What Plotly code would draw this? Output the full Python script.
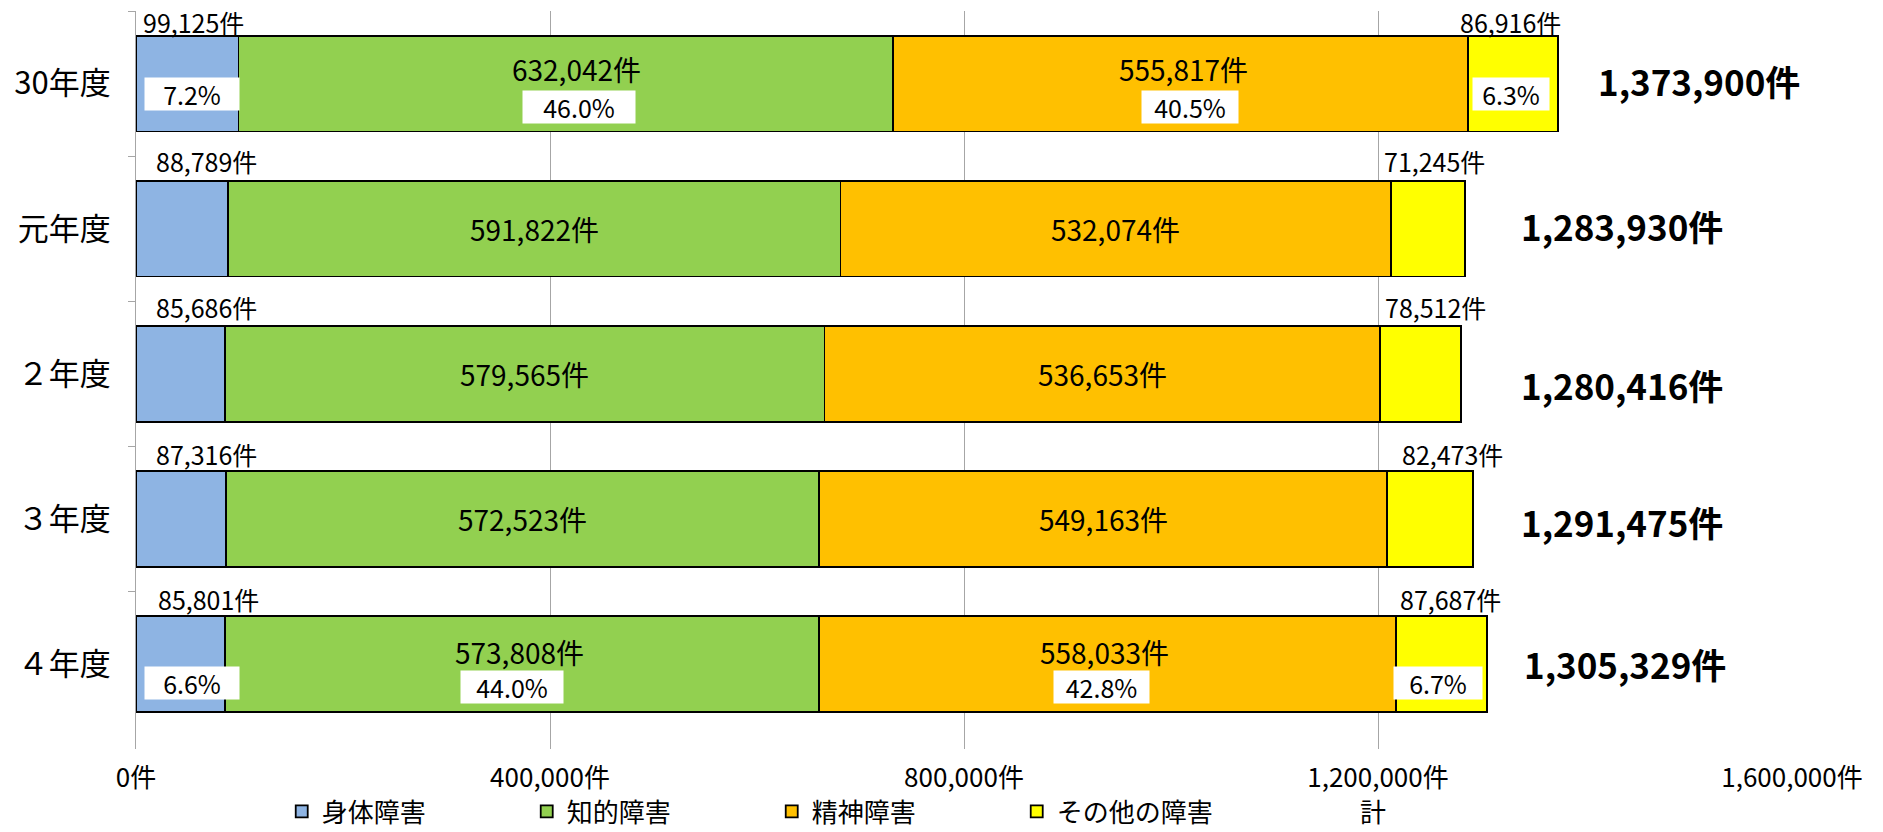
import plotly.graph_objects as go

categories = ["30年度", "元年度", "２年度", "３年度", "４年度"]
series_names = ["身体障害", "知的障害", "精神障害", "その他の障害"]
shintai = [99125, 88789, 85686, 87316, 85801]
chiteki = [632042, 591822, 579565, 572523, 573808]
seishin = [555817, 532074, 536653, 549163, 558033]
sonota = [86916, 71245, 78512, 82473, 87687]
totals = [1373900, 1283930, 1280416, 1291475, 1305329]
tick_vals = [0, 400000, 800000, 1200000, 1600000]
tick_text = ["0件", "400,000件", "800,000件", "1,200,000件", "1,600,000件"]
pct_rows = [0, 4]  # rows that show percentage boxes

colors = ["#8EB4E3", "#92D050", "#FFC000", "#FFFF00"]
FONT = "Noto Sans CJK JP"
series = [shintai, chiteki, seishin, sonota]

fig = go.Figure()
for name, vals, col in zip(series_names, series, colors):
    fig.add_trace(go.Bar(
        y=categories, x=vals, name=name, orientation="h",
        marker=dict(color=col, line=dict(color="#000000", width=1.8)),
        hoverinfo="x+name",
    ))
# legend-only entry for the total
fig.add_trace(go.Bar(
    y=categories, x=[0] * len(categories), name="計", orientation="h",
    marker=dict(color="rgba(0,0,0,0)", line=dict(width=0)),
    legend="legend2", hoverinfo="skip",
))

annotations = []
# px offsets (layout only)
shintai_dx = [5, 18, 18, 18, 20]
above_dy = [62, 68, 67, 65, 65]
sonota_dx = [-10, -9, 3, 13, 2]
value_dx = {0: [11, 3], 4: [-2, -3]}
value_dy = {0: 15, 4: 12}
pct_dx = {0: [5, 13, 10, -2], 4: [12, -10, -6, -4]}
pct_dy = {0: [-10, -23, -23, -10], 4: [-19, -23, -23, -19]}
pct_w = {0: [92, 110, 94, 74], 4: [92, 100, 93, 86]}
total_dx = [38, 54, 58, 46, 35]
total_dy = [3, 3, -11, -3, 1]

for i, cat in enumerate(categories):
    cum = 0
    starts = []
    for s in series:
        starts.append(cum)
        cum += s[i]
    annotations.append(dict(x=0, y=cat, xref="x", yref="y", text=f"{shintai[i]:,}件",
                            showarrow=False, xanchor="left", yanchor="middle",
                            xshift=shintai_dx[i], yshift=above_dy[i],
                            font=dict(size=25, color="#000000", family=FONT)))
    annotations.append(dict(x=starts[3], y=cat, xref="x", yref="y", text=f"{sonota[i]:,}件",
                            showarrow=False, xanchor="left", yanchor="middle",
                            xshift=sonota_dx[i], yshift=above_dy[i],
                            font=dict(size=25, color="#000000", family=FONT)))
    for k, s in ((1, chiteki), (2, seishin)):
        cx = starts[k] + s[i] / 2
        dx = value_dx[i][k - 1] if i in value_dx else 0
        dy = value_dy.get(i, 0)
        annotations.append(dict(x=cx, y=cat, xref="x", yref="y", text=f"{s[i]:,}件",
                                showarrow=False, xanchor="center", yanchor="middle",
                                xshift=dx, yshift=dy,
                                font=dict(size=28, color="#000000", family=FONT)))
    if i in pct_rows:
        for k, s in enumerate(series):
            cx = starts[k] + s[i] / 2
            pct = s[i] / totals[i] * 100
            annotations.append(dict(x=cx, y=cat, xref="x", yref="y", text=f"{pct:.1f}%",
                                    showarrow=False, xanchor="center", yanchor="middle",
                                    xshift=pct_dx[i][k], yshift=pct_dy[i][k],
                                    bgcolor="#FFFFFF", borderpad=1, width=pct_w[i][k], height=30,
                                    font=dict(size=25, color="#000000", family=FONT)))
    annotations.append(dict(x=totals[i], y=cat, xref="x", yref="y", text=f"<b>{totals[i]:,}件</b>",
                            showarrow=False, xanchor="left", yanchor="middle",
                            xshift=total_dx[i], yshift=total_dy[i],
                            font=dict(size=35, color="#000000", family=FONT)))

fig.update_layout(
    width=1883, height=832,
    barmode="stack", bargap=0.34,
    plot_bgcolor="#FFFFFF", paper_bgcolor="#FFFFFF",
    margin=dict(l=136, r=91, t=11, b=83, autoexpand=False),
    font=dict(family=FONT, size=24, color="#000000"),
    annotations=annotations,
    showlegend=True,
    legend=dict(orientation="h", x=0.088, y=-0.0528, xanchor="left", yanchor="top",
                font=dict(size=26, family=FONT), entrywidth=200, entrywidthmode="pixels",
                traceorder="normal", bgcolor="rgba(0,0,0,0)"),
    legend2=dict(orientation="h", x=0.715, y=-0.0528, xanchor="left", yanchor="top",
                 font=dict(size=26, family=FONT), bgcolor="rgba(0,0,0,0)"),
    xaxis=dict(range=[0, 1600000], tickvals=tick_vals, ticktext=tick_text,
               showgrid=True, gridcolor="#A6A6A6", gridwidth=1.2, zeroline=False,
               showline=False, ticks="", tickfont=dict(size=26, family=FONT),
               ticklabelstandoff=11, fixedrange=True),
    yaxis=dict(autorange="reversed", showline=True, linecolor="#A6A6A6", linewidth=1.2,
               ticks="outside", tickson="boundaries", ticklen=7, tickcolor="#A6A6A6",
               tickfont=dict(size=31, family=FONT), ticklabelstandoff=18,
               showgrid=False, zeroline=False, fixedrange=True),
)

fig.write_html(
    "out.html",
    config={"displayModeBar": False},
    post_script=(
        "document.documentElement.style.margin='0';"
        "document.documentElement.style.overflow='hidden';"
        "document.documentElement.style.height='832px';"
        "document.body.style.margin='0';"
        "document.body.style.overflow='hidden';"
        "document.body.style.height='832px';"
    ),
)
